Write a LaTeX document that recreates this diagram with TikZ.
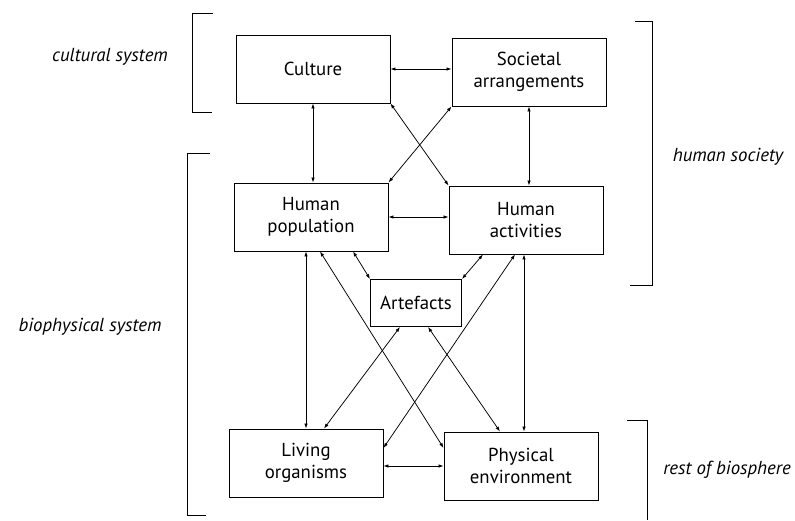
\documentclass[tikz,border=0pt]{standalone}
\usepackage{fontspec}
\setmainfont{PT Sans}
\usetikzlibrary{arrows.meta,calc}

\tikzset{
	box/.style={draw, line width=0.9pt, align=center, inner sep=0pt,
		minimum width=154pt, minimum height=68pt,
		font=\fontsize{18.8}{21.5}\selectfont},
	link/.style={<->, line width=0.75pt},
	bracket/.style={line width=1pt},
	sysname/.style={font=\fontsize{18.8}{22}\selectfont\itshape}
}

\begin{document}
\begin{tikzpicture}[x=1pt, y=-1pt, >={Latex[length=5pt,width=3.5pt]}]
				\useasboundingbox (0,0) rectangle (795,520);
				
				% Boxes
				\node[box] (cult) at (313,69) {Culture};
				\node[box] (soc) at (529,72) {Societal\\arrangements};
				\node[box] (hpop) at (311,217) {Human\\population};
				\node[box] (hact) at (526,220) {Human\\activities};
				\node[box, minimum width=91pt, minimum height=47pt] (art) at (416,303) {Artefacts};
				\node[box] (lorg) at (306,463) {Living\\organisms};
				\node[box] (penv) at (521,466) {Physical\\environment};
				
				% Links in the upper part
				\draw[link] (cult.east) -- (cult.east -| soc.west);
				\draw[link] (cult.south) -- (cult.south |- hpop.north);
				\draw[link] (soc.south) -- (soc.south |- hact.north);
				\draw[link] (cult.south east) -- (hact.north west);
				\draw[link] (soc.south west) -- (hpop.north east);
				\draw[link] (hpop.east) -- (hpop.east -| hact.west);
				
				% Links in the lower part
				\draw[link] (lorg.north |- hpop.south) -- (lorg.north);
				\draw[link] ([xshift=-2pt]hact.south) -- ([xshift=3pt]penv.north);
				\draw[link] ([xshift=42pt]hpop.south) -- (art.north west);
				\draw[link] ([xshift=-43pt]hact.south) -- (art.north east);
				\draw[link] ([xshift=9pt]hpop.south) -- ([yshift=18pt]penv.west);
				\draw[link] ([xshift=-11pt]hact.south) -- ([yshift=15pt]lorg.east);
				\draw[link] ([xshift=-16pt]art.south) -- ([xshift=18pt]lorg.north);
				\draw[link] ([xshift=12pt]art.south) -- ([xshift=-21pt]penv.north);
				\draw[link] ([yshift=-3pt]lorg.east) -- ([yshift=-3pt]lorg.east -| penv.west);
				
				% Brackets
				\draw[bracket] (213,13) -- (192,13) -- (192,112) -- (212,112);
				\draw[bracket] (210,153) -- (187,153) -- (187,515) -- (206,515);
				\draw[bracket] (635,21) -- (652,21) -- (652,285) -- (630,285);
				\draw[bracket] (627,420) -- (647,420) -- (647,520);
				
				% Names of the systems
				\node[sysname] (cultname) at (110,57) {cultural system};
				\node[sysname] (bioname) at (90,327) {biophysical system};
				\node[sysname] (socname) at (728,157) {human society};
				\node[sysname] (restname) at (727,470) {rest of biosphere};
			\end{tikzpicture}
\end{document}
